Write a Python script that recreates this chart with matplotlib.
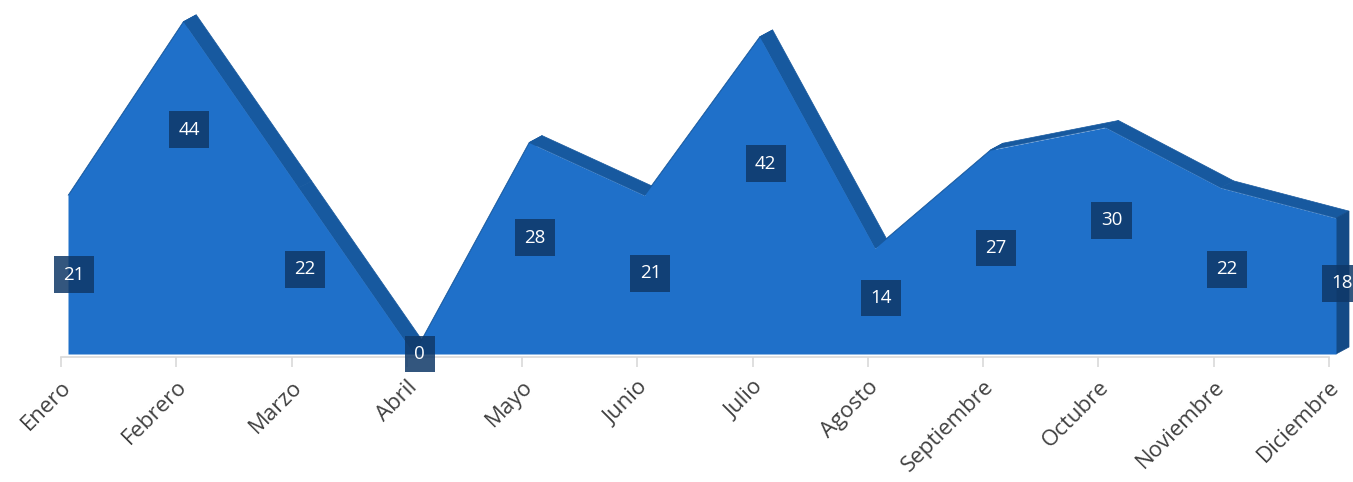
import matplotlib.pyplot as plt
import matplotlib.transforms as mtransforms
from matplotlib.patches import Polygon

meses = ["Enero", "Febrero", "Marzo", "Abril", "Mayo", "Junio", "Julio",
         "Agosto", "Septiembre", "Octubre", "Noviembre", "Diciembre"]
valores = [21, 44, 22, 0, 28, 21, 42, 14, 27, 30, 22, 18]
# where each label sits, as a fraction of the value height
label_frac = [0.50, 0.675, 0.51, 0.0, 0.55, 0.51, 0.60, 0.53, 0.52, 0.59, 0.51, 0.52]

front_col = "#1f70c9"
top_col = "#17599f"
side_col = "#134a86"
box_col = "#0f3868"

plt.rcParams["font.family"] = ["Open Sans", "DejaVu Sans"]

fig = plt.figure(figsize=(13.53, 4.82), dpi=100)
ax = fig.add_axes([61 / 1353, 125 / 482, (1329 - 61) / 1353, 357 / 482])
ax.set_xlim(0, 11)
ax.set_ylim(0, 357 / 7.55)

x = list(range(len(valores)))
n = len(valores)

# front face sits a bit right/up of the axis, back face further away
front_tr = mtransforms.offset_copy(ax.transData, fig, x=7, y=3, units="dots")
dx = 13 / (1268 / 11)   # depth in data units
dy = 7 / 7.55

# top surface strips
for i in range(n - 1):
    quad = [(x[i], valores[i]), (x[i + 1], valores[i + 1]),
            (x[i + 1] + dx, valores[i + 1] + dy), (x[i] + dx, valores[i] + dy)]
    ax.add_patch(Polygon(quad, closed=True, facecolor=top_col, edgecolor=top_col,
                         lw=0.5, transform=front_tr, clip_on=False, zorder=1))

# right end face
end = [(x[-1], 0), (x[-1], valores[-1]), (x[-1] + dx, valores[-1] + dy), (x[-1] + dx, dy)]
ax.add_patch(Polygon(end, closed=True, facecolor=side_col, edgecolor=side_col,
                     lw=0.5, transform=front_tr, clip_on=False, zorder=1))

# front face
ax.fill_between(x, 0, valores, color=front_col, lw=0, transform=front_tr,
                clip_on=False, zorder=2)

# value labels
lab_tr = mtransforms.offset_copy(ax.transData, fig, x=13, y=3, units="dots")
for xi, v, f in zip(x, valores, label_frac):
    ax.text(xi, v * f, str(v), transform=lab_tr, ha="center", va="center",
            color="white", fontsize=13.5, zorder=5, clip_on=False,
            bbox=dict(boxstyle="square,pad=0.5", facecolor=box_col,
                      edgecolor="none", alpha=0.85))

# axis styling
for s in ["top", "right", "left"]:
    ax.spines[s].set_visible(False)
ax.spines["bottom"].set_color("#d9d9d9")
ax.spines["bottom"].set_linewidth(1.2)
ax.set_yticks([])
ax.set_xticks(x)
ax.set_xticklabels(meses, rotation=45, ha="right", rotation_mode="anchor",
                   fontsize=16, color="#404040")
ax.tick_params(axis="x", length=7, color="#d9d9d9", width=1.2, pad=7)
ax.patch.set_alpha(0)

fig.savefig("out.png", dpi=100, facecolor="white")
